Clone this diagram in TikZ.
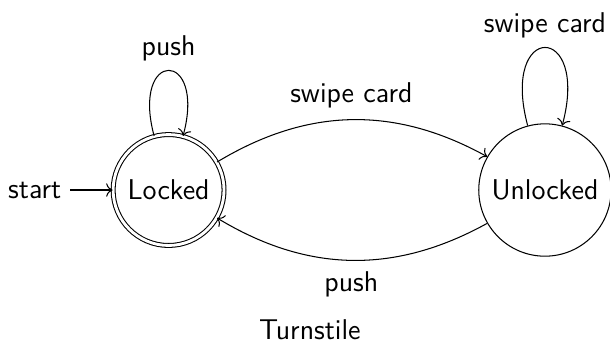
\documentclass[tikz,border=0pt]{standalone}
\usepackage{tikz}
\usetikzlibrary{arrows.meta}

\begin{document}
\begin{tikzpicture}[every node/.style={font=\sffamily\fontsize{11}{13}\selectfont}]
    \tikzset{
        statenode/.style={circle, draw, inner sep=2pt},
        acceptnode/.style={statenode, double, double distance=1.1pt}
    }
    \useasboundingbox (0,0) rectangle (8.25,4.68);

    \node[acceptnode, minimum size=1.50cm] at (2.28, 2.11) (locked) {Locked};
    \node[statenode, minimum size=1.79cm] at (7.37, 2.11) (unlocked) {Unlocked};
    \node at (0.47, 2.11) (start) {start};
    \node at (4.19, 0.22) (title) {Turnstile};

    \draw [-{To}] (start) -- (locked);
    \draw [-{To}] (locked) to[bend left=30] node[above=1pt] {swipe card} (unlocked);
    \draw [-{To}] (unlocked) to[bend left=30] node[below=1pt] {push} (locked);
    \draw [-{To}] (locked) to[loop above] node[above] {push} (locked);
    \draw [-{To}] (unlocked) to[loop above] node[above] {swipe card} (unlocked);
\end{tikzpicture}
\end{document}
